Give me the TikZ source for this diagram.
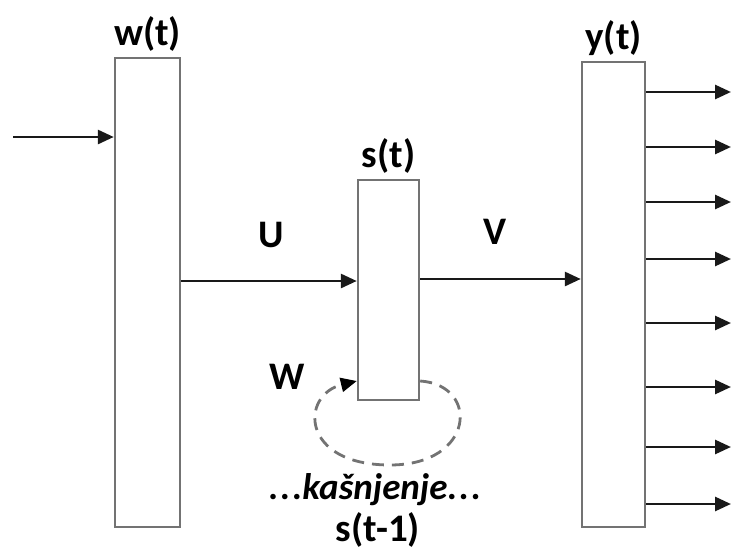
\documentclass[tikz,border=0pt]{standalone}
\usepackage{fontspec}
\setmainfont{Carlito}
\usetikzlibrary{positioning, arrows.meta}

\begin{document}
\begin{tikzpicture}[x=1pt,y=-1pt,
  layer/.style={draw=black!55, line width=2.4pt, inner sep=0pt},
  arr/.style={-{Triangle[length=16pt,width=14pt]}, line width=2.8pt, draw=black!90},
  lbl/.style={font=\fontsize{39}{44}\selectfont\bfseries, inner sep=0pt}]
  \useasboundingbox (0,0) rectangle (732,552);
  % slojevi mreze
  \node[layer, minimum width=65pt, minimum height=469pt] (w) at (147.5,292.5) {};
  \node[layer, minimum width=61pt, minimum height=220pt] (s) at (388.5,290) {};
  \node[layer, minimum width=63pt, minimum height=465pt] (y) at (613.5,294.5) {};
  \node[lbl, above=5pt of w] (wlab) {w(t)};
  \node[lbl, above=5pt of s] (slab) {s(t)};
  \node[lbl, above=5pt of y] (ylab) {y(t)};
  % ulaz
  \coordinate (in) at (13,137);
  \draw[arr] (in) -- (in -| w.west);
  % tezine
  \coordinate (u) at (0,281);
  \draw[arr] (u -| w.east) -- (u -| s.west);
  \coordinate (v) at (0,279);
  \draw[arr] (v -| s.east) -- (v -| y.west);
  \node[lbl] (ulab) at (271,235) {U};
  \node[lbl] (vlab) at (495,232) {V};
  \node[lbl] (wwlab) at (287,377) {W};
  % povratna veza
  \coordinate (fb) at (0,381);
  \draw[black!55, line width=2.8pt, dash pattern=on 12pt off 8pt, -{Triangle[length=16pt,width=14pt,black]}]
    (fb -| s.east) .. controls (480,385) and (475,465) .. (390,465)
    .. controls (300,465) and (300,395) .. (fb -| s.west);
  \node[lbl, font=\fontsize{37}{42}\selectfont\bfseries\itshape] (delay) at (375,490) {.\kern2pt.\kern2pt.kašnjenje.\kern2pt.\kern2pt.};
  \node[lbl] (prev) at (378,530) {s(t-1)};
  % izlazi
  \foreach \yy in {92,147,202,259,323,387,447,504}
    \draw[arr] (y.east |- 0,\yy) -- (731,\yy);
\end{tikzpicture}
\end{document}
